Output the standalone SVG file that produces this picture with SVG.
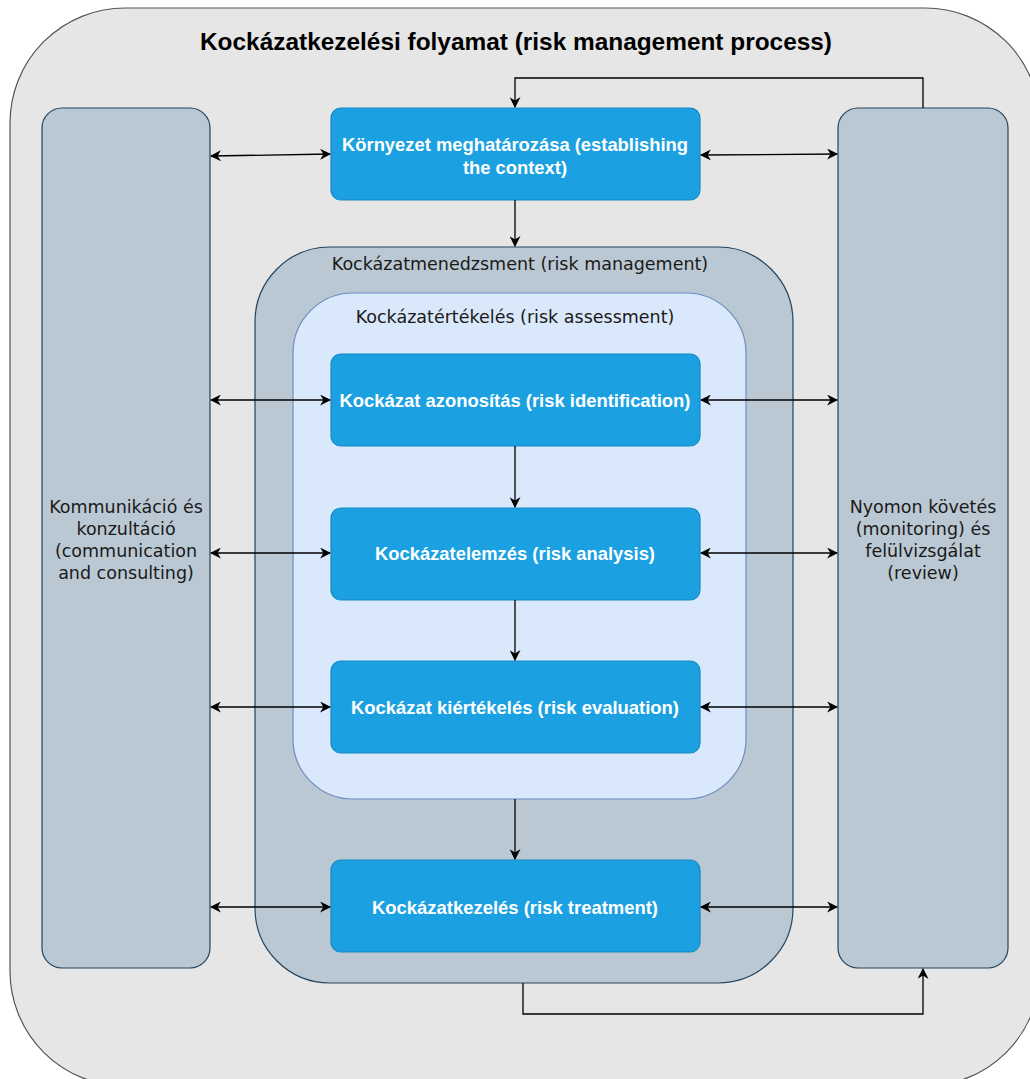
<svg xmlns="http://www.w3.org/2000/svg" width="1030" height="1079" viewBox="0 0 1030 1079">
  <style>
    .outer { fill: #e6e6e6; stroke: #555555; stroke-width: 1.2; }
    .side { fill: #bac8d3; stroke: #23445d; stroke-width: 1.2; }
    .mgmt { fill: #bac8d3; stroke: #23445d; stroke-width: 1.2; }
    .assess { fill: #dae8fc; stroke: #6c8ebf; stroke-width: 1.2; }
    .step { fill: #1ba1e2; stroke: #1689c2; stroke-width: 1.2; }
    .title { font-family: "Liberation Sans", Arial, sans-serif; font-size: 24px; font-weight: bold; fill: #000; text-anchor: middle; }
    .label { font-family: "DejaVu Sans", Verdana, sans-serif; font-size: 17.5px; fill: #1a1a1a; text-anchor: middle; }
    .steptext { font-family: "Liberation Sans", Arial, sans-serif; font-size: 19px; font-weight: bold; fill: #ffffff; text-anchor: middle; }
    .conn { fill: none; stroke: #000; stroke-width: 1.3; }
  </style>
  <defs>
    <marker id="arrow" viewBox="0 0 10 10" refX="9" refY="5" markerWidth="11" markerHeight="11" markerUnits="userSpaceOnUse" orient="auto-start-reverse">
      <path d="M0,0 L10,5 L0,10 L3,5 Z" fill="#000"/>
    </marker>
  </defs>

  <!-- outer container -->
  <g id="process">
    <rect class="outer" x="10" y="8" width="1030" height="1078" rx="115" ry="115"/>
    <text class="title" x="516" y="50" textLength="632" lengthAdjust="spacingAndGlyphs">Kockázatkezelési folyamat (risk management process)</text>
  </g>

  <!-- communication column -->
  <g id="communication">
    <rect class="side" x="42" y="108" width="168" height="860" rx="20" ry="20"/>
    <text class="label" x="126" y="513">Kommunikáció és</text>
    <text class="label" x="126" y="535">konzultáció</text>
    <text class="label" x="126" y="557">(communication</text>
    <text class="label" x="126" y="579">and consulting)</text>
  </g>

  <!-- monitoring column -->
  <g id="monitoring">
    <rect class="side" x="838" y="108" width="170" height="860" rx="20" ry="20"/>
    <text class="label" x="923" y="513">Nyomon követés</text>
    <text class="label" x="923" y="535">(monitoring) és</text>
    <text class="label" x="923" y="557">felülvizsgálat</text>
    <text class="label" x="923" y="579">(review)</text>
  </g>

  <!-- risk management container -->
  <g id="management">
    <rect class="mgmt" x="255" y="247" width="538" height="736" rx="75" ry="75"/>
    <text class="label" x="520" y="270">Kockázatmenedzsment (risk management)</text>
  </g>

  <!-- risk assessment container -->
  <g id="assessment">
    <rect class="assess" x="293" y="293" width="453" height="506" rx="60" ry="60"/>
    <text class="label" x="515" y="323">Kockázatértékelés (risk assessment)</text>
  </g>

  <g id="context">
    <rect class="step" x="331" y="108" width="369" height="92" rx="10" ry="10"/>
    <text class="steptext" x="515" y="151" textLength="346" lengthAdjust="spacingAndGlyphs">Környezet meghatározása (establishing</text>
    <text class="steptext" x="515" y="174" textLength="104" lengthAdjust="spacingAndGlyphs">the context)</text>
  </g>

  <g id="identification">
    <rect class="step" x="331" y="354" width="369" height="92" rx="10" ry="10"/>
    <text class="steptext" x="515" y="407" textLength="351" lengthAdjust="spacingAndGlyphs">Kockázat azonosítás (risk identification)</text>
  </g>

  <g id="analysis">
    <rect class="step" x="331" y="508" width="369" height="92" rx="10" ry="10"/>
    <text class="steptext" x="515" y="560" textLength="280" lengthAdjust="spacingAndGlyphs">Kockázatelemzés (risk analysis)</text>
  </g>

  <g id="evaluation">
    <rect class="step" x="331" y="661" width="369" height="92" rx="10" ry="10"/>
    <text class="steptext" x="515" y="714" textLength="328" lengthAdjust="spacingAndGlyphs">Kockázat kiértékelés (risk evaluation)</text>
  </g>

  <g id="treatment">
    <rect class="step" x="331" y="860" width="369" height="92" rx="10" ry="10"/>
    <text class="steptext" x="515" y="914" textLength="286" lengthAdjust="spacingAndGlyphs">Kockázatkezelés (risk treatment)</text>
  </g>

  <!-- connectors -->
  <g id="connectors">
    <path class="conn" d="M211,156 L330,154" marker-start="url(#arrow)" marker-end="url(#arrow)"/>
    <path class="conn" d="M701,155 L837,154" marker-start="url(#arrow)" marker-end="url(#arrow)"/>
    <path class="conn" d="M211,400 L330,400" marker-start="url(#arrow)" marker-end="url(#arrow)"/>
    <path class="conn" d="M701,400 L837,400" marker-start="url(#arrow)" marker-end="url(#arrow)"/>
    <path class="conn" d="M211,553 L330,553" marker-start="url(#arrow)" marker-end="url(#arrow)"/>
    <path class="conn" d="M701,553 L837,553" marker-start="url(#arrow)" marker-end="url(#arrow)"/>
    <path class="conn" d="M211,707 L330,707" marker-start="url(#arrow)" marker-end="url(#arrow)"/>
    <path class="conn" d="M701,707 L837,707" marker-start="url(#arrow)" marker-end="url(#arrow)"/>
    <path class="conn" d="M211,907 L330,907" marker-start="url(#arrow)" marker-end="url(#arrow)"/>
    <path class="conn" d="M701,907 L837,907" marker-start="url(#arrow)" marker-end="url(#arrow)"/>

    <path class="conn" d="M515,200 L515,246" marker-end="url(#arrow)"/>
    <path class="conn" d="M515,446 L515,507" marker-end="url(#arrow)"/>
    <path class="conn" d="M515,600 L515,660" marker-end="url(#arrow)"/>
    <path class="conn" d="M515,799 L515,859" marker-end="url(#arrow)"/>

    <path class="conn" d="M923,108 L923,78 L515,78 L515,107" marker-end="url(#arrow)"/>
    <path class="conn" d="M523,983 L523,1014 L923,1014 L923,969" marker-end="url(#arrow)"/>
  </g>
</svg>
